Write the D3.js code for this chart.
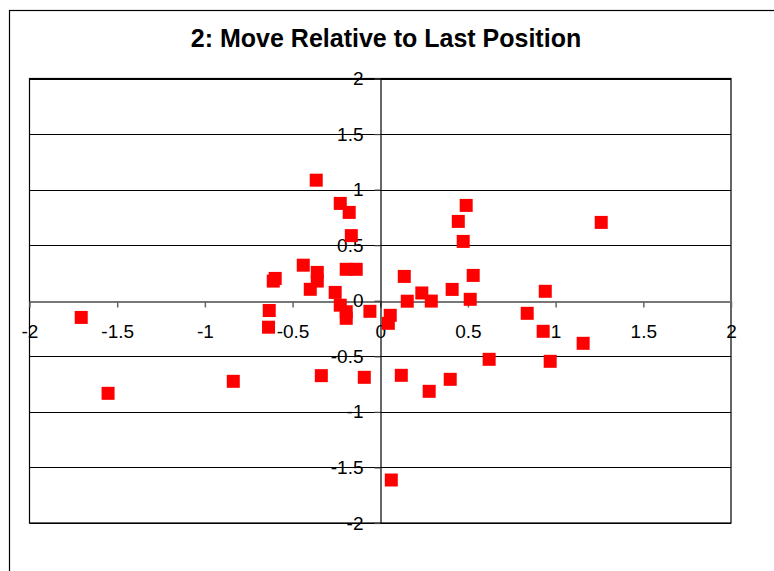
<!DOCTYPE html>
<html>
<head>
<meta charset="utf-8">
<script src="https://cdn.jsdelivr.net/npm/d3@7"></script>
<style>
  html, body { margin: 0; padding: 0; background: #fff; }
  svg { display: block; }
  text { font-family: "Liberation Sans", Arial, sans-serif; fill: #000; }
</style>
</head>
<body>
<svg id="chart" width="774" height="571"></svg>
<script>
// Relative moves: x and y offsets from the previous position
const moveX = [-1.705, -1.552, -0.838, -0.633, -0.637, -0.599, -0.61, -0.439, -0.359, -0.359,
  -0.399, -0.365, -0.228, -0.177, -0.165, -0.194, -0.137, -0.257, -0.228, -0.194,
  -0.194, -0.059, -0.336, -0.091, 0.057, 0.046, 0.063, 0.137, 0.154, 0.237,
  0.291, 0.41, 0.49, 0.445, 0.473, 0.53, 0.513, 1.26, 0.941, 0.838,
  0.929, 1.157, 0.621, 0.969, 0.12, 0.399, 0.279];
const moveY = [-0.15, -0.833, -0.725, -0.088, -0.238, 0.201, 0.177, 0.32, 0.255, 0.177,
  0.103, 1.085, 0.876, 0.795, 0.586, 0.283, 0.283, 0.075, -0.04, -0.099,
  -0.158, -0.095, -0.674, -0.689, -0.131, -0.203, -1.613, 0.219, -0.004, 0.07,
  -0.003, 0.102, 0.858, 0.714, 0.534, 0.228, 0.013, 0.705, 0.085, -0.113,
  -0.275, -0.383, -0.527, -0.545, -0.671, -0.707, -0.815];
const xTicks = [-2, -1.5, -1, -0.5, 0, 0.5, 1, 1.5, 2];
const yTicks = [-2, -1.5, -1, -0.5, 0, 0.5, 1, 1.5, 2];
const title = "2: Move Relative to Last Position";

const svg = d3.select("#chart");
const plot = { left: 29.5, right: 731, top: 78.5, bottom: 523 };

const x = d3.scaleLinear().domain([-2, 2]).range([plot.left, plot.right]);
const y = d3.scaleLinear().domain([-2, 2]).range([plot.bottom, plot.top]);

// plain hyphen-minus labels
const fmt = d => String(d);

// outer chart frame (extends past the window on the right and bottom)
svg.append("rect")
  .attr("x", 9.5).attr("y", 10.5)
  .attr("width", 800).attr("height", 600)
  .attr("fill", "#fff").attr("stroke", "#000").attr("stroke-width", 1.2);

// title
svg.append("text")
  .attr("x", 386).attr("y", 46.5)
  .attr("text-anchor", "middle")
  .attr("font-size", 25).attr("font-weight", "bold")
  .text(title);

// horizontal gridlines
svg.append("g").selectAll("line")
  .data(yTicks.filter(d => d !== 0))
  .join("line")
  .attr("x1", plot.left).attr("x2", plot.right)
  .attr("y1", d => Math.round(y(d)) + 0.5).attr("y2", d => Math.round(y(d)) + 0.5)
  .attr("stroke", "#000").attr("stroke-width", 1.2);

// plot frame
svg.append("rect")
  .attr("x", plot.left).attr("y", plot.top)
  .attr("width", plot.right - plot.left).attr("height", plot.bottom - plot.top)
  .attr("fill", "none").attr("stroke", "#000").attr("stroke-width", 1.2);

// x axis through y = 0
const xAxis = d3.axisBottom(x).tickValues(xTicks).tickSize(6).tickSizeOuter(0)
  .tickFormat(fmt).tickPadding(17);
const gx = svg.append("g")
  .attr("transform", `translate(0,${Math.round(y(0)) + 0.5})`)
  .call(xAxis);
gx.select(".domain").attr("stroke", "#777").attr("stroke-width", 2);
gx.selectAll(".tick line").attr("stroke", "#666").attr("stroke-width", 1.5);
gx.selectAll(".tick text").attr("font-size", 19).attr("font-family", "Liberation Sans, Arial, sans-serif");

// y axis through x = 0
const yAxis = d3.axisLeft(y).tickValues(yTicks).tickSize(6).tickSizeOuter(0)
  .tickFormat(fmt).tickPadding(11);
const gy = svg.append("g")
  .attr("transform", `translate(${Math.round(x(0)) + 0.5},0)`)
  .call(yAxis);
gy.select(".domain").attr("stroke", "#000").attr("stroke-width", 1.2);
gy.selectAll(".tick line").attr("stroke", "#444").attr("stroke-width", 1.2);
gy.selectAll(".tick text").attr("font-size", 19).attr("font-family", "Liberation Sans, Arial, sans-serif");

// markers
const size = 13;
svg.append("g").selectAll("rect")
  .data(moveX.map((v, i) => [v, moveY[i]]))
  .join("rect")
  .attr("x", d => x(d[0]) - size / 2)
  .attr("y", d => y(d[1]) - size / 2)
  .attr("width", size).attr("height", size)
  .attr("fill", "#ff0000");
</script>
</body>
</html>
